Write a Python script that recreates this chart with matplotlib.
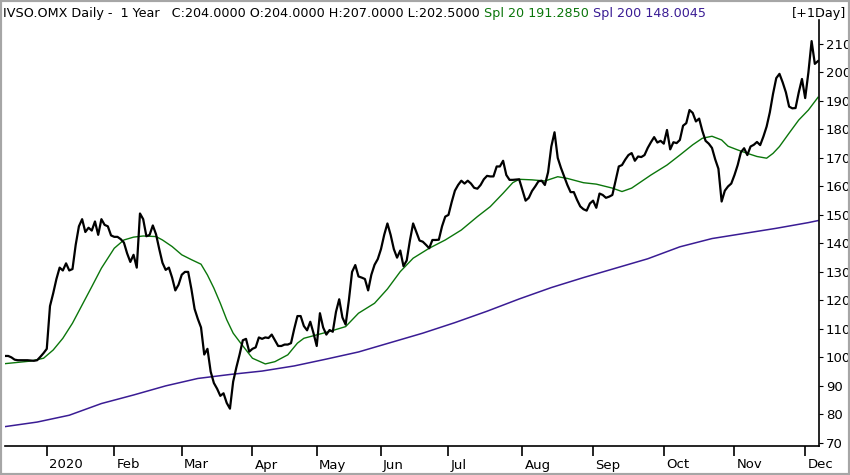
import matplotlib
matplotlib.use("Agg")
import matplotlib.pyplot as plt
import matplotlib.transforms as mtransforms
from matplotlib.patches import Rectangle

# daily closes, one per trading day (Dec 2019 .. Dec 2020)
close = [
    100.5, 100.5, 100.0, 99.2, 99.0, 99.0, 99.0, 99.0, 98.9, 98.8,
    99.0, 100.2, 101.5, 103.0, 118.0, 122.5, 127.5, 131.5, 130.5, 133.0,
    130.5, 131.0, 139.5, 146.0, 148.5, 144.0, 145.5, 144.5, 147.7, 143.0,
    148.5, 146.5, 146.0, 142.8, 142.3, 142.3, 141.5, 140.3, 136.5, 133.5,
    136.0, 131.5, 150.5, 148.5, 142.5, 143.0, 146.3, 143.2, 138.0, 133.2,
    130.7, 131.5, 128.0, 123.5, 125.5, 129.0, 130.0, 130.0, 124.0, 117.0,
    113.5, 110.5, 101.0, 103.0, 95.0, 91.0, 89.0, 86.5, 87.4, 84.0,
    82.0, 91.5, 96.5, 101.0, 106.0, 106.5, 102.0, 103.0, 103.5, 107.0,
    106.5, 107.0, 106.8, 108.0, 106.0, 104.0, 104.0, 104.5, 104.5, 105.0,
    110.0, 114.5, 114.5, 111.0, 109.5, 112.5, 108.5, 104.0, 115.5, 110.5,
    108.0, 109.6, 109.0, 116.0, 120.4, 114.0, 111.5, 120.0, 130.0, 132.4,
    128.4, 128.0, 127.5, 123.5, 129.0, 132.5, 134.5, 138.0, 143.0, 147.0,
    143.0, 138.0, 135.0, 137.5, 132.0, 134.0, 141.0, 147.0, 144.0, 141.0,
    140.6, 139.5, 138.3, 141.2, 141.2, 141.3, 146.0, 149.4, 150.0, 154.5,
    158.5, 160.5, 162.0, 161.0, 162.0, 161.0, 159.5, 159.2, 160.5, 162.5,
    163.7, 163.5, 163.5, 167.0, 167.0, 169.0, 164.0, 162.3, 162.3, 162.4,
    162.5, 158.8, 155.0, 156.0, 158.4, 160.0, 161.8, 162.0, 160.5, 165.0,
    174.0, 179.0, 170.0, 166.5, 163.5, 160.5, 158.0, 158.0, 155.3, 153.0,
    152.0, 151.5, 154.0, 155.0, 152.5, 157.5, 157.0, 156.0, 156.4, 157.0,
    162.0, 167.0, 167.5, 169.4, 171.0, 171.7, 169.0, 170.5, 170.3, 171.0,
    173.5, 175.5, 177.3, 175.4, 176.0, 175.0, 179.8, 173.0, 175.5, 175.2,
    176.3, 181.3, 182.2, 186.8, 185.8, 182.8, 183.8, 179.5, 176.0, 175.0,
    173.5, 169.5, 166.2, 154.7, 158.5, 160.0, 161.0, 164.0, 167.5, 172.0,
    173.4, 171.0, 174.0, 174.6, 175.6, 174.5, 177.5, 181.0, 186.0, 192.5,
    198.0, 199.5, 196.5, 193.0, 188.0, 187.4, 187.5, 193.0, 197.7, 191.0,
    200.0, 211.0, 203.0, 204.0,
]
days = list(range(len(close)))

# 20-day simple moving average at these bars
sma20_days = [
    0, 8, 12, 15, 18, 21, 24, 27, 30, 34, 37, 40, 43, 47, 49, 52, 55, 58,
    61, 63, 65, 67, 69, 71, 73, 75, 77, 80, 81, 84, 88, 91, 93, 97, 101,
    106, 110, 115, 119, 123, 127, 132, 137, 142, 147, 151, 155, 158, 160,
    164, 168, 172, 175, 180, 184, 189, 192, 195, 198, 201, 206, 210, 214,
    217, 220, 223, 225, 228, 231, 234, 237, 239, 241, 244, 247, 250, 253,
]
sma20 = [
    97.8, 98.7, 99.7, 102.6, 106.7, 112.0, 118.4, 124.8, 131.3, 138.3,
    141.2, 142.2, 142.6, 142.4, 141.2, 138.9, 136.0, 134.3, 132.7, 128.9,
    124.3, 119.0, 113.2, 108.5, 105.5, 102.6, 99.7, 98.2, 97.7, 98.5,
    100.9, 105.0, 106.7, 107.9, 109.1, 110.8, 115.5, 119.0, 124.0, 130.1,
    134.8, 138.3, 141.2, 144.7, 149.4, 152.9, 157.6, 161.3, 162.5, 162.3,
    161.9, 163.4, 162.8, 161.3, 160.8, 159.4, 158.2, 159.4, 161.7, 164.0,
    167.5, 171.0, 174.6, 176.9, 177.6, 176.3, 174.1, 172.8, 171.6, 170.5,
    169.9, 171.6, 174.0, 178.7, 183.3, 186.8, 191.2850,
]

# 200-day simple moving average, read every 10th bar
sma200_days = list(range(0, 251, 10)) + [253]
sma200 = [
    75.7, 77.3, 79.7, 83.8, 86.8, 90.0, 92.6, 94.0, 95.2, 97.0,
    99.4, 101.9, 105.2, 108.5, 112.2, 116.2, 120.5, 124.5, 128.0, 131.3,
    134.6, 138.8, 141.7, 143.5, 145.3, 147.3, 148.0045,
]

# last bar
last_open, last_high, last_low = 204.0, 207.0, 202.5

# first trading day of each month (bar index)
month_days = [13, 34, 55, 77, 97, 117, 138, 161, 183, 205, 227, 249]
month_labels = ["2020", "Feb", "Mar", "Apr", "May", "Jun", "Jul", "Aug",
                "Sep", "Oct", "Nov", "Dec"]

GREEN = "#0b760b"
PURPLE = "#3a1c94"

fig = plt.figure(figsize=(8.5, 4.75), dpi=100)
W, H = 850, 475
ax = fig.add_axes([5 / W, 1 - 446 / H, (819 - 5) / W, (446 - 20) / H])

ax.plot(sma200_days, sma200, color=PURPLE, lw=1.1)
ax.plot(sma20_days, sma20, color=GREEN, lw=1.0)
ax.plot(days, close, color="black", lw=1.6)

ax.set_xlim(0, 253.3)
ax.set_ylim(68.9, 218.4)

for side in ("left", "top"):
    ax.spines[side].set_visible(False)
for side in ("right", "bottom"):
    ax.spines[side].set_linewidth(1.2)

ax.yaxis.tick_right()
ax.set_yticks(range(70, 211, 10))
ax.tick_params(axis="y", length=3, pad=2, labelsize=9.5)

ax.set_xticks(month_days)
ax.set_xticklabels(month_labels)
ax.tick_params(axis="x", length=7, width=1.2, pad=2, labelsize=9.5)
shift = mtransforms.ScaledTranslation(1.5 / 72, 0, fig.dpi_scale_trans)
for lbl in ax.get_xticklabels():
    lbl.set_horizontalalignment("left")
    lbl.set_transform(lbl.get_transform() + shift)

# header line, pieces in different colours
header = [
    ("IVSO.OMX Daily -  1 Year   C:%.4f O:%.4f H:%.4f L:%.4f "
     % (close[-1], last_open, last_high, last_low), "black"),
    ("Spl 20 %.4f " % sma20[-1], GREEN),
    ("Spl 200 %.4f" % sma200[-1], PURPLE),
]
renderer = fig.canvas.get_renderer()
x = 3 / W
for txt, col in header:
    t = fig.text(x, 1 - 13 / H, txt, color=col, fontsize=9.2, va="center",
                 ha="left")
    bb = t.get_window_extent(renderer=renderer)
    x = bb.x1 / fig.bbox.width
fig.text(846 / W, 1 - 13 / H, "[+1Day]", fontsize=9.2, va="center", ha="right")

fig.patches.append(Rectangle((0, 0), 1, 1, transform=fig.transFigure,
                             fill=False, edgecolor="#a6a6a6", lw=3))

fig.savefig("out.png", dpi=100)
